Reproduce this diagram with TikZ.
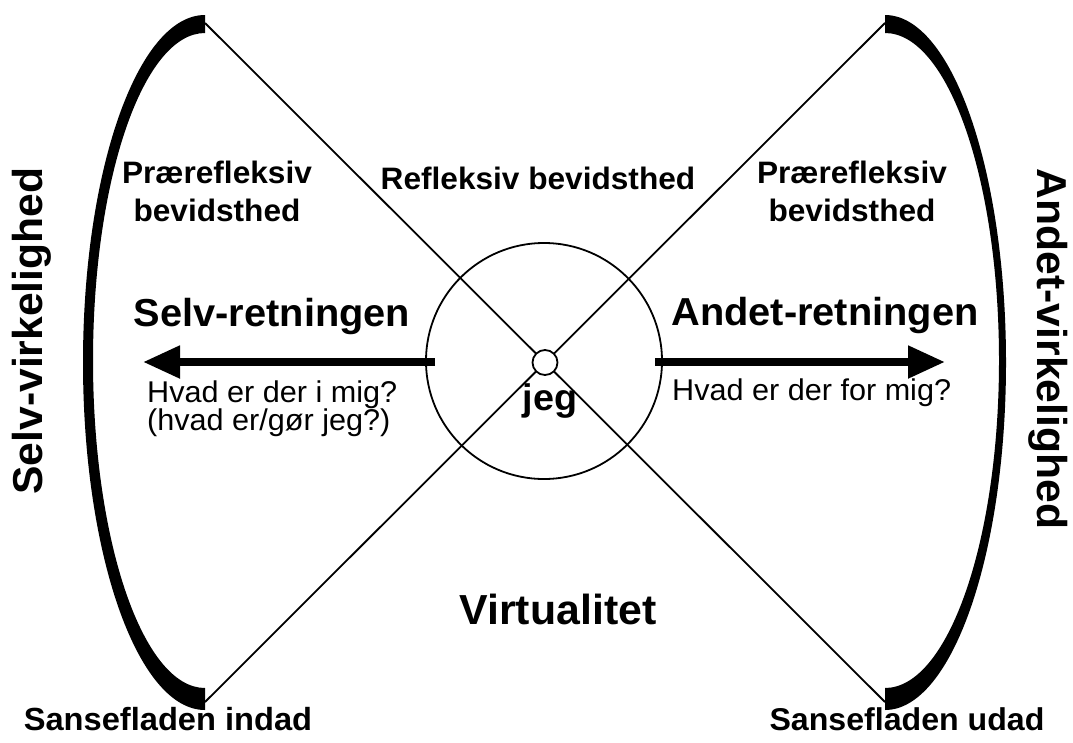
\documentclass[tikz,border=0pt]{standalone}
\usepackage{fontspec}
\setmainfont{Liberation Sans}
\newfontfamily\lab[FakeStretch=1.02]{Liberation Sans}
\usetikzlibrary{arrows.meta}
\begin{document}
\begin{tikzpicture}[x=1pt,y=-1pt,
  lbl/.style={inner sep=0pt, anchor=base, font=\lab\bfseries\fontsize{31}{34}\selectfont},
  dirlbl/.style={inner sep=0pt, anchor=base, font=\lab\bfseries\fontsize{39}{40}\selectfont},
  qlbl/.style={inner sep=0pt, anchor=base west, font=\lab\fontsize{30}{30}\selectfont},
  sidelbl/.style={inner sep=0pt, anchor=base, font=\lab\bfseries\fontsize{41.8}{40}\selectfont},
  bigtxt/.style={inner sep=0pt, anchor=base, font=\lab\bfseries\fontsize{42}{40}\selectfont},
  crescent/.style={fill=black},
  xline/.style={line width=1.8pt},
  ring/.style={draw, circle, line width=1.8pt, inner sep=0pt},
  bigarrow/.style={line width=8pt, -{Triangle[length=37pt,width=31pt]}},
]
\useasboundingbox (0,0) rectangle (1073,742);
% crescents
\fill[crescent] (205,15) .. controls (137.6,15) and (83,170.6) .. (83,362.5)
  .. controls (83,554.4) and (137.6,710) .. (205,710) -- (205,688)
  .. controls (143.1,688) and (93,541.4) .. (93,360.5)
  .. controls (93,179.6) and (143.1,33) .. (205,33) -- cycle;
\fill[crescent] (885,15) .. controls (951.8,15) and (1006,170.6) .. (1006,362.5)
  .. controls (1006,554.4) and (951.8,710) .. (885,710) -- (885,688)
  .. controls (948,688) and (999,541.4) .. (999,360.5)
  .. controls (999,179.6) and (948,33) .. (885,33) -- cycle;
% end points
\coordinate (tl) at (205,23);
\coordinate (tr) at (885,23);
\coordinate (bl) at (205,702);
\coordinate (br) at (885,702);
% big circle
\node[ring, minimum size=236pt] (C) at (544,361) {};
% X lines
\draw[xline] (tl) -- (br);
\draw[xline] (tr) -- (bl);
% small circle
\node[ring, fill=white, minimum size=25pt] (me) at (545,362.5) {};
% arrows
\coordinate (lstart) at (435,362);
\coordinate (ltip) at (143,362);
\coordinate (rstart) at (655,362);
\coordinate (rtip) at (945,362);
\draw[bigarrow] (lstart) -- (ltip);
\draw[bigarrow] (rstart) -- (rtip);
% labels
\node[lbl] (pl1) at (217,183) {Prærefleksiv};
\node[lbl] (pl2) at (217,221) {bevidsthed};
\node[lbl] (pr1) at (852,183) {Prærefleksiv};
\node[lbl] (pr2) at (852,221) {bevidsthed};
\node[lbl] (refl) at (538,189) {Refleksiv bevidsthed};
\node[dirlbl] (selvr) at (272,326) {Selv-retningen};
\node[dirlbl] (andetr) at (825,325) {Andet-retningen};
\node[qlbl] (q1) at (147,402) {Hvad er der i mig?};
\node[qlbl] (q2) at (147,430) {(hvad er/gør jeg?)};
\node[qlbl] (q3) at (672,400) {Hvad er der for mig?};
\node[lbl, font=\lab\bfseries\fontsize{37}{40}\selectfont] (jeg) at (550,410) {jeg};
\node[bigtxt] (virt) at (558,624) {Virtualitet};
\node[lbl, font=\lab\bfseries\fontsize{32}{34}\selectfont] (sl) at (168,730) {Sansefladen indad};
\node[lbl, font=\lab\bfseries\fontsize{31.5}{34}\selectfont] (sr) at (907,730) {Sansefladen udad};
\node[sidelbl, rotate=90] (selvv) at (42.5,331) {Selv-virkelighed};
\node[sidelbl, rotate=-90] (andetv) at (1037,349) {Andet-virkelighed};
\end{tikzpicture}
\end{document}
